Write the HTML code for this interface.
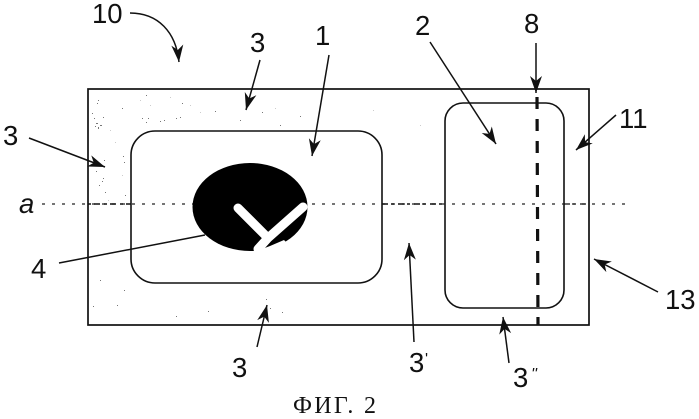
<!DOCTYPE html>
<html><head><meta charset="utf-8">
<style>
html,body{margin:0;padding:0;background:#fff;width:699px;height:419px;overflow:hidden}
svg{display:block}
text{font-family:"Liberation Sans",sans-serif;font-size:27.5px;fill:#111}
</style></head>
<body>
<svg width="699" height="419" viewBox="0 0 699 419" xmlns="http://www.w3.org/2000/svg">
<defs>
<marker id="h" markerUnits="userSpaceOnUse" markerWidth="22" markerHeight="16" refX="18" refY="7" orient="auto">
<path d="M18 7 L1 1 L6 7 L1 13 Z" fill="#111"/>
</marker>
</defs>
<rect width="699" height="419" fill="#fff"/>

<!-- speckle -->
<g fill="#777">
<rect x="92" y="113" width="1" height="1"/><rect x="94" y="118" width="1" height="1"/><rect x="96" y="123" width="2" height="1"/><rect x="98" y="127" width="1" height="2"/>
<rect x="95" y="126" width="1" height="1"/><rect x="100" y="125" width="2" height="1"/><rect x="103" y="117" width="1" height="1"/><rect x="98" y="100" width="1" height="1"/>
<rect x="97" y="103" width="1" height="1"/><rect x="122" y="108" width="1" height="1"/><rect x="146" y="122" width="1" height="1"/><rect x="146" y="95" width="1" height="1"/>
<rect x="142" y="118" width="1" height="1"/><rect x="148" y="118" width="1" height="1"/><rect x="160" y="121" width="1" height="1"/><rect x="164" y="120" width="1" height="1"/>
<rect x="176" y="118" width="1" height="1"/><rect x="182" y="103" width="1" height="1"/><rect x="180" y="117" width="1" height="1"/><rect x="104" y="160" width="1" height="1"/>
<rect x="123" y="156" width="1" height="1"/><rect x="124" y="162" width="1" height="1"/><rect x="99" y="185" width="1" height="1"/><rect x="103" y="178" width="1" height="1"/>
<rect x="102" y="181" width="1" height="1"/><rect x="125" y="195" width="1" height="1"/><rect x="96" y="171" width="1" height="1"/><rect x="105" y="192" width="1" height="1"/>
<rect x="215" y="111" width="1" height="1"/><rect x="240" y="120" width="1" height="1"/><rect x="262" y="112" width="1" height="1"/><rect x="280" y="125" width="1" height="1"/>
<rect x="300" y="116" width="1" height="1"/><rect x="100" y="280" width="1" height="1"/><rect x="124" y="290" width="1" height="1"/><rect x="117" y="305" width="1" height="1"/>
<rect x="93" y="306" width="1" height="1"/><rect x="176" y="316" width="1" height="1"/><rect x="208" y="311" width="1" height="1"/><rect x="266" y="299" width="1" height="1"/>
<rect x="270" y="308" width="1" height="1"/><rect x="282" y="312" width="1" height="1"/>
</g>
<g fill="#ccc">
<rect x="140" y="100" width="1" height="1"/><rect x="150" y="105" width="1" height="1"/><rect x="170" y="97" width="1" height="1"/><rect x="190" y="105" width="1" height="1"/>
<rect x="200" y="112" width="1" height="1"/><rect x="250" y="100" width="1" height="1"/><rect x="275" y="108" width="1" height="1"/><rect x="110" y="130" width="1" height="1"/>
<rect x="115" y="142" width="1" height="1"/><rect x="108" y="200" width="1" height="1"/><rect x="122" y="175" width="1" height="1"/><rect x="373" y="110" width="1" height="1"/>
<rect x="420" y="125" width="1" height="1"/>
</g>

<!-- main shapes -->
<rect x="88" y="89" width="501" height="236" fill="none" stroke="#111" stroke-width="1.7"/>
<rect x="131" y="131" width="251" height="152" rx="24" ry="24" fill="none" stroke="#111" stroke-width="1.6"/>
<rect x="445" y="103" width="119" height="205" rx="18" ry="18" fill="none" stroke="#111" stroke-width="1.6"/>

<!-- axis -->
<line x1="42" y1="204" x2="626" y2="204" stroke="#222" stroke-width="1.2" stroke-dasharray="3 7"/>
<line x1="88" y1="204" x2="131" y2="204" stroke="#111" stroke-width="1.5" stroke-dasharray="3 3 6 4"/>
<line x1="382" y1="204" x2="445" y2="204" stroke="#111" stroke-width="1.5" stroke-dasharray="6 3 3 4"/>
<line x1="564" y1="204" x2="589" y2="204" stroke="#111" stroke-width="1.3" stroke-dasharray="6 3 3 4"/>

<!-- ellipse and V -->
<ellipse cx="250" cy="207" rx="57.5" ry="44" fill="#000"/>
<path d="M238 208 L268 238 L303 207 M268 238 L258 249" fill="none" stroke="#fff" stroke-width="9" stroke-linecap="round"/>
<path d="M254 252 L270 246 L284 240 L287 243 L270 252 Z" fill="#fff"/>

<!-- dashed line 8 -->
<line x1="537" y1="97" x2="538" y2="325" stroke="#111" stroke-width="3.2" stroke-dasharray="12 10"/>

<!-- arrows -->
<g fill="none" stroke="#111" stroke-width="1.5" marker-end="url(#h)">
<path d="M130 13 C158 13 176 32 179 62"/>
<line x1="260" y1="60" x2="246" y2="110"/>
<line x1="329" y1="55" x2="312" y2="156"/>
<line x1="29" y1="138" x2="105" y2="167"/>
<line x1="430" y1="42" x2="496" y2="144"/>
<line x1="536" y1="43" x2="536" y2="93"/>
<line x1="616" y1="115" x2="576" y2="150"/>
<line x1="658" y1="292" x2="594" y2="259"/>
<line x1="414" y1="342" x2="409" y2="243"/>
<line x1="509" y1="363" x2="503" y2="317"/>
<line x1="257" y1="347" x2="267" y2="305"/>
</g>
<line x1="59" y1="263" x2="205" y2="235" stroke="#111" stroke-width="1.5"/>

<!-- labels -->
<text x="92" y="23">10</text>
<text x="250" y="52">3</text>
<text x="315" y="45">1</text>
<text x="3" y="145">3</text>
<text x="19" y="213" font-style="italic">a</text>
<text x="31" y="278">4</text>
<text x="232" y="377">3</text>
<text x="415" y="35">2</text>
<text x="524" y="33">8</text>
<text x="619" y="128">11</text>
<text x="665" y="309">13</text>
<text x="409" y="372">3</text>
<text x="425" y="364" style="font-size:16px">'</text>
<text x="513" y="387">3</text>
<text x="531" y="379" style="font-size:16px" font-style="italic">''</text>
<text x="293" y="413" style="font-family:'Liberation Serif',serif;font-size:24px;letter-spacing:2.3px">ФИГ. 2</text>
</svg>
</body></html>
